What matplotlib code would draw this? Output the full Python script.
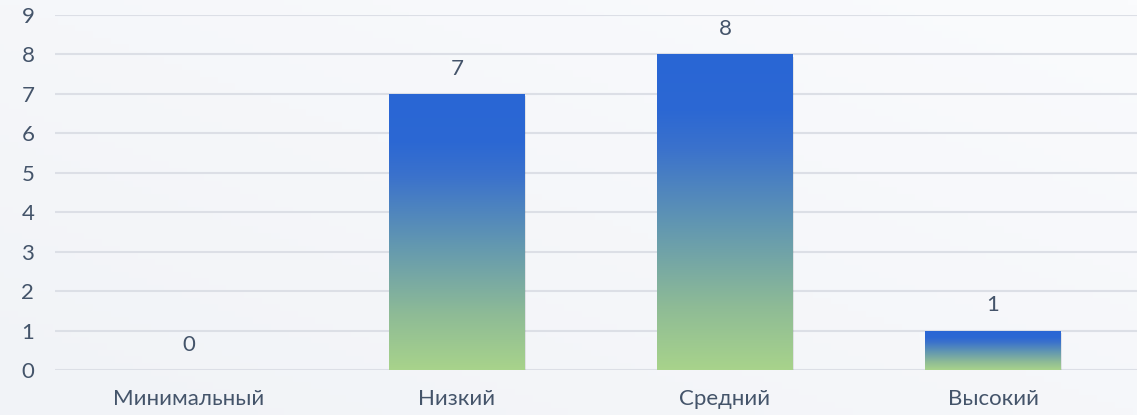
import numpy as np
import matplotlib.pyplot as plt
from matplotlib.colors import LinearSegmentedColormap

categories = ["Минимальный", "Низкий", "Средний", "Высокий"]
values = [0, 7, 8, 1]

plt.rcParams['font.family'] = ['Lato', 'DejaVu Sans']
text_color = '#44546a'

fig = plt.figure(figsize=(11.37, 4.15), dpi=100)
fig.patch.set_facecolor('#f6f7fa')

# light background gradient over the whole figure
bg = fig.add_axes([0, 0, 1, 1], zorder=-10)
gx = np.linspace(0, 1, 256)
bg_img = np.outer(np.linspace(1, 0, 64), np.ones(256)) * 0.5 + gx[None, :] * 0.5
bg_cmap = LinearSegmentedColormap.from_list('bg', ['#f1f3f7', '#fafbfd'])
bg.imshow(bg_img, cmap=bg_cmap, aspect='auto', extent=[0, 1, 0, 1])
bg.axis('off')

ax = fig.add_axes([55 / 1137, 45 / 415, 1 - 55 / 1137, 355 / 415])
ax.set_facecolor('none')

bar_cmap = LinearSegmentedColormap.from_list(
    'bar', [(0.0, '#a8d38b'), (0.2, '#8ebb96'), (0.45, '#6398b0'),
            (0.7, '#3b72cc'), (0.82, '#2c68d3'), (1.0, '#2966d5')])
grad = np.linspace(0, 1, 256).reshape(-1, 1)

x = np.arange(len(categories))
bars = ax.bar(x, values, width=0.505, color='none', zorder=3)
for b, v in zip(bars, values):
    if v <= 0:
        continue
    x0, w = b.get_x(), b.get_width()
    # soft shadow
    ax.add_patch(plt.Rectangle((x0 + 0.004, -0.06), w, v, color='#000000',
                               alpha=0.08, zorder=2, lw=0))
    im = ax.imshow(grad, cmap=bar_cmap, aspect='auto', origin='lower',
                   extent=[x0, x0 + w, 0, v], zorder=3)
    im.set_clip_path(b)
ax.set_xlim(-0.5, 3.537)
ax.set_ylim(0, 9)

for xi, v in zip(x, values):
    ax.annotate(str(v), (xi, v), xytext=(0, 11), textcoords='offset points',
                ha='center', va='bottom', fontsize=16, color=text_color)

ax.set_yticks(range(0, 10))
ax.set_xticks(x)
ax.set_xticklabels(categories)
ax.tick_params(axis='both', length=0, labelsize=16, labelcolor=text_color)
ax.tick_params(axis='x', pad=14)
ax.tick_params(axis='y', pad=19.5)
for lab in ax.get_yticklabels():
    lab.set_horizontalalignment('center')
ax.grid(axis='y', color='#dcdfe6', linewidth=1.5, zorder=0)
ax.set_axisbelow(True)
for s in ax.spines.values():
    s.set_visible(False)

fig.savefig('out.png', dpi=100, facecolor=fig.get_facecolor())
